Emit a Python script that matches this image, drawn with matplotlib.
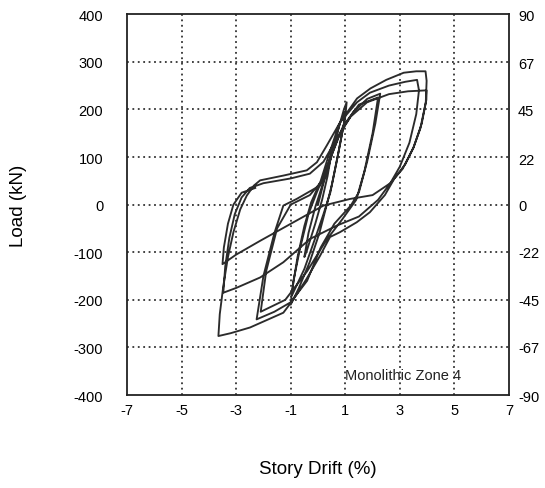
import matplotlib
matplotlib.use("Agg")
from matplotlib import pyplot as plt
import numpy as np

plt.rcParams['font.family'] = ['Liberation Sans', 'DejaVu Sans']
plt.rcParams['axes.unicode_minus'] = False

# story drift (%) and load (kN), traced cycle by cycle
drift = [0, 0.2, 0.45, 0.5, 0.35, 0.15, -0.1, -0.4, -0.5, -0.35, -0.1, 0.1,
         # 1% cycles
         0.4, 0.7, 0.95, 1.05, 1.0, 0.75, 0.5, 0.3, 0.05, -0.3, -0.7, -1.0,
         -0.95, -0.75, -0.5, -0.25, 0.1,
         0.4, 0.75, 1.0, 0.95, 0.7, 0.45, 0.2, -0.1, -0.5, -0.95,
         -0.9, -0.65, -0.35, -0.05,
         # 2% cycles
         0.35, 0.8, 1.3, 1.8, 2.28, 2.1, 1.8, 1.5, 1.2, 0.6, 0.1, -0.4, -1.0,
         -1.6, -2.25, -2.0, -1.6, -1.27, -0.78, 0.07, 0.44, 0.92, 1.5, 2.2,
         2.0, 1.7, 1.4, 0.9, 0.3, -0.4, -1.2, -2.1,
         -1.9, -1.5, -1.0, -0.3, 0.3,
         # 4% cycles
         0.81, 1.43, 1.92, 2.5, 3.14, 3.6, 3.94, 3.98, 3.95, 3.75, 3.5, 3.2,
         2.8, 2.45, 1.9, 1.42, 0.8, 0.44, 0.07, -0.42, -0.9, -1.27, -2.49,
         -3.2, -3.65, -3.6, -3.47, -3.3, -3.1, -2.85, -2.61, -2.35, -2.12,
         -1.27, -0.41, -0.04, 0.32, 0.81, 1.43, 1.9, 2.6, 3.2, 3.63,
         3.7, 3.6, 3.35, 3.0, 2.65, 2.2, 1.5, 0.69, -0.29, -1.27, -2.12,
         -3.0, -3.47, -3.4, -3.25, -3.05, -2.8, -2.5, -2.0, -1.0, -0.3, 0.2,
         0.7, 1.2, 1.8, 2.6, 3.3, 3.98,
         3.97, 3.8, 3.5, 3.1, 2.65, 2.0, 1.18, 0.2, -0.9, -2.12, -3.0, -3.5,
         -3.45, -3.3, -3.1, -2.8, -2.3]
load = [0, 45, 100, 110, 60, 10, -40, -95, -110, -60, -5, 30,
        85, 150, 200, 215, 185, 110, 40, -5, -60, -120, -175, -210,
        -180, -110, -45, 5, 50,
        105, 165, 195, 170, 95, 25, -20, -70, -135, -190,
        -160, -90, -20, 25,
        80, 150, 195, 222, 233, 170, 90, 26, -2, -40, -90, -160, -205,
        -225, -241, -150, -60, -2, 12, 40, 96, 165, 210, 225,
        150, 70, 10, -30, -75, -140, -200, -225,
        -140, -50, 0, 20, 60,
        173, 223, 244, 262, 277, 280, 280, 260, 215, 160, 120, 85,
        55, 20, -16, -37, -58, -68, -108, -156, -199, -227, -258,
        -270, -276, -230, -171, -110, -58, -10, 19, 40, 51,
        61, 72, 89, 124, 173, 215, 235, 250, 258, 262,
        240, 190, 130, 80, 45, 10, -25, -44, -72, -121, -153,
        -175, -185, -130, -70, -20, 15, 35, 45, 55, 65, 90,
        140, 185, 215, 232, 238, 240,
        220, 170, 120, 75, 45, 20, 12, -2, -37, -76, -105, -125,
        -90, -40, 0, 25, 35]

x_ticks = [-7, -5, -3, -1, 1, 3, 5, 7]
y_ticks = [-400, -300, -200, -100, 0, 100, 200, 300, 400]
kip_ticks = [-90, -67, -45, -22, 0, 22, 45, 67, 90]
kip_per_kn = 90 / 400

fig = plt.figure(figsize=(5.45, 4.89), dpi=100)
ax = fig.add_axes([0.233, 0.190, 0.701, 0.779])

ax.plot(drift, load, color='#2b2b2b', lw=1.35)

ax.set_xlim(-7, 7)
ax.set_ylim(-400, 400)
ax.set_xticks(x_ticks)
ax.set_yticks(y_ticks)
ax.set_xticklabels([str(v) for v in x_ticks])
ax.set_yticklabels([str(v) for v in y_ticks])
ax.tick_params(axis='y', length=0, pad=17, labelsize=10.5)
ax.tick_params(axis='x', length=0, pad=6, labelsize=10.5)

# dotted grid on the inner ticks only
for xv in x_ticks[1:-1]:
    ax.axvline(xv, color='#333333', lw=1.3, ls=(0, (1, 2)), zorder=0)
for yv in y_ticks[1:-1]:
    ax.axhline(yv, color='#333333', lw=1.3, ls=(0, (1, 2)), zorder=0)

for s in ax.spines.values():
    s.set_linewidth(1.3)
    s.set_color('#222222')

sec = ax.secondary_yaxis('right', functions=(lambda y: y * kip_per_kn, lambda k: k / kip_per_kn))
sec.set_yticks(kip_ticks)
sec.set_yticklabels([str(v) for v in kip_ticks])
sec.tick_params(length=0, pad=6.5, labelsize=10.5)
sec.spines['right'].set_visible(False)

ax.set_xlabel('Story Drift (%)', fontsize=13.5)
ax.set_ylabel('Load (kN)', fontsize=13.5)
ax.xaxis.set_label_coords(0.5, -0.171)
ax.yaxis.set_label_coords(-0.262, 0.5)

ax.text(1.0, -358, 'Monolithic Zone 4', fontsize=10.5, va='center', ha='left', color='#222222')

plt.savefig('out.png', dpi=100)
